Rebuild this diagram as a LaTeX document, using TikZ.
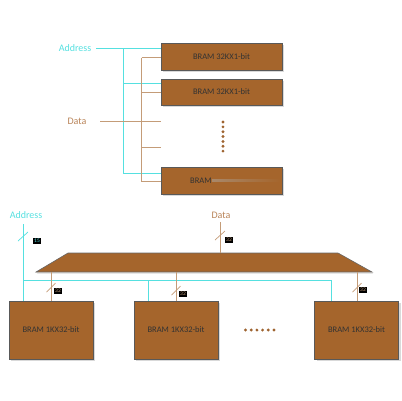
\documentclass[tikz,border=0pt]{standalone}
\usepackage{fontspec}
\setmainfont{Carlito}
\definecolor{cyanbus}{HTML}{55E0E0}
\definecolor{tanbus}{HTML}{C49C78}
\definecolor{datatxt}{HTML}{B98459}
\definecolor{boxc}{HTML}{A5652C}
\definecolor{dotc}{HTML}{9E6330}
\definecolor{fadec}{HTML}{A8886A}
\tikzset{
  bram/.style={draw=black!65, line width=0.6pt, fill=boxc, inner sep=0pt, font=\fontsize{8.5}{9}\selectfont, text=black!80},
  abus/.style={draw=cyanbus, line width=1.3pt},
  dbus/.style={draw=tanbus, line width=1.3pt},
  wlabel/.style={fill=black, inner sep=0.8pt, font=\fontsize{5.5}{6}\selectfont},
  bdot/.style={circle, fill=dotc, inner sep=0pt, minimum size=3.2pt},
}
\begin{document}
\begin{tikzpicture}[x=1pt,y=-1pt]
\useasboundingbox (0,0) rectangle (402,400);
% ---------- top part ----------
\foreach \n/\yc/\h in {b1/56.5/27, b2/92/26, b3/180.5/27}{
  \fill[black!15] (162.5,\yc-\h/2+1.5) rectangle (283.5,\yc+\h/2+1.5);
}
\node[bram, minimum width=121pt, minimum height=27pt] (b1) at (221.5,56.5) {BRAM 32KX1-bit};
\node[bram, minimum width=121pt, minimum height=26pt] (b2) at (221.5,92) {BRAM 32KX1-bit};
\node[bram, minimum width=121pt, minimum height=27pt] (b3) at (221.5,180.5) {};
\node[inner sep=0pt, anchor=west, font=\fontsize{8.5}{9}\selectfont, text=black!80] (b3t) at (190,180.5) {BRAM};
\shade[left color=fadec, right color=boxc] (b3t.east) ++(0,-1.2) rectangle (280,181.7);

\node[text=cyanbus, font=\fontsize{10}{12}\selectfont, inner sep=0pt] (addr1) at (75,48) {Address};
\node[text=datatxt, font=\fontsize{10}{12}\selectfont, inner sep=0pt] (data1) at (77,121.5) {Data};

\coordinate (a0) at (96,48.5);
\coordinate (av1) at (123.5,48.5);
\coordinate (av2) at (123.5,83.5);
\coordinate (av3) at (123.5,173.5);
\draw[abus] (a0) -- (av1) -- (b1.west |- av1);
\draw[abus] (av1) -- (av3) -- (b3.west |- av3);
\draw[abus] (av2) -- (b2.west |- av2);

\coordinate (d0) at (100,121.5);
\coordinate (dv1) at (141.5,57.5);
\coordinate (dv2) at (141.5,92.5);
\coordinate (dv3) at (141.5,121.5);
\coordinate (dv4) at (141.5,147.5);
\coordinate (dv5) at (141.5,181.5);
\coordinate (de3) at (161,121.5);
\coordinate (de4) at (161,147.5);
\draw[dbus] (dv1) -- (dv5) -- (b3.west |- dv5);
\draw[dbus] (dv1) -- (b1.west |- dv1);
\draw[dbus] (dv2) -- (b2.west |- dv2);
\draw[dbus] (d0) -- (de3);
\draw[dbus] (dv4) -- (de4);

\foreach \i in {0,...,6}{
  \node[bdot] (vd\i) at (223,122+\i*4.85) {};
}

% ---------- bottom part ----------
\node[text=cyanbus, font=\fontsize{10}{12}\selectfont, inner sep=0pt] (addr2) at (26,215.5) {Address};
\node[text=datatxt, font=\fontsize{10}{12}\selectfont, inner sep=0pt] (data2) at (221,215.5) {Data};

\fill[black!15] (37.5,273.5) -- (372.5,273.5) -- (373.5,272.5) -- (36,272.5) -- cycle;
\draw[fill=boxc, draw=black!60, line width=0.6pt] (68,253) -- (338,253) -- (372,272) -- (36,272) -- cycle;
\coordinate (trtop) at (220.5,253);
\coordinate (trb1) at (51.5,272);
\coordinate (trb2) at (176.5,272);
\coordinate (trb3) at (357.5,272);

\foreach \x in {9,134,315}{
  \fill[black!15] (\x+1.5,302.5) rectangle (\x+85.5,360.5);
}
\node[bram, minimum width=84pt, minimum height=58pt] (m1) at (51,330) {BRAM 1KX32-bit};
\node[bram, minimum width=84pt, minimum height=58pt] (m2) at (176,330) {BRAM 1KX32-bit};
\node[bram, minimum width=84pt, minimum height=58pt] (m3) at (356.5,330) {BRAM 1KX32-bit};

% address bus
\coordinate (at) at (23.5,224);
\coordinate (ah) at (23.5,280.5);
\coordinate (ah2) at (148.5,280.5);
\coordinate (ah3) at (331.5,280.5);
\draw[abus] (at) -- (ah) -- (ah |- m1.north);
\draw[abus] (ah) -- (ah3) -- (ah3 |- m3.north);
\draw[abus] (ah2) -- (ah2 |- m2.north);
\draw[cyanbus, line width=0.7pt] (18,241) -- (28,232);
\node[wlabel, text=cyanbus] (l15) at (37,241) {15};

% data bus
\coordinate (dt) at (220.5,222);
\draw[dbus] (dt) -- (trtop);
\draw[tanbus, line width=0.7pt] (215,240) -- (225,231);
\node[wlabel, text=tanbus] (l32a) at (229,240) {32};

\draw[dbus] (trb1) -- (m1.north -| trb1);
\draw[dbus] (trb2) -- (m2.north -| trb2);
\draw[dbus] (trb3) -- (m3.north -| trb3);
\draw[tanbus, line width=0.7pt] (46.5,292) -- (55.5,283);
\draw[tanbus, line width=0.7pt] (171.5,295) -- (180.5,286);
\draw[tanbus, line width=0.7pt] (352.5,292) -- (361.5,283);
\node[wlabel, text=tanbus] (l32b) at (58,291) {32};
\node[wlabel, text=tanbus] (l32c) at (183,294) {32};
\node[wlabel, text=tanbus] (l32d) at (363,290) {32};

\foreach \i in {0,...,5}{
  \node[bdot] (hd\i) at (245.5+\i*5.7,330) {};
}
\end{tikzpicture}
\end{document}
